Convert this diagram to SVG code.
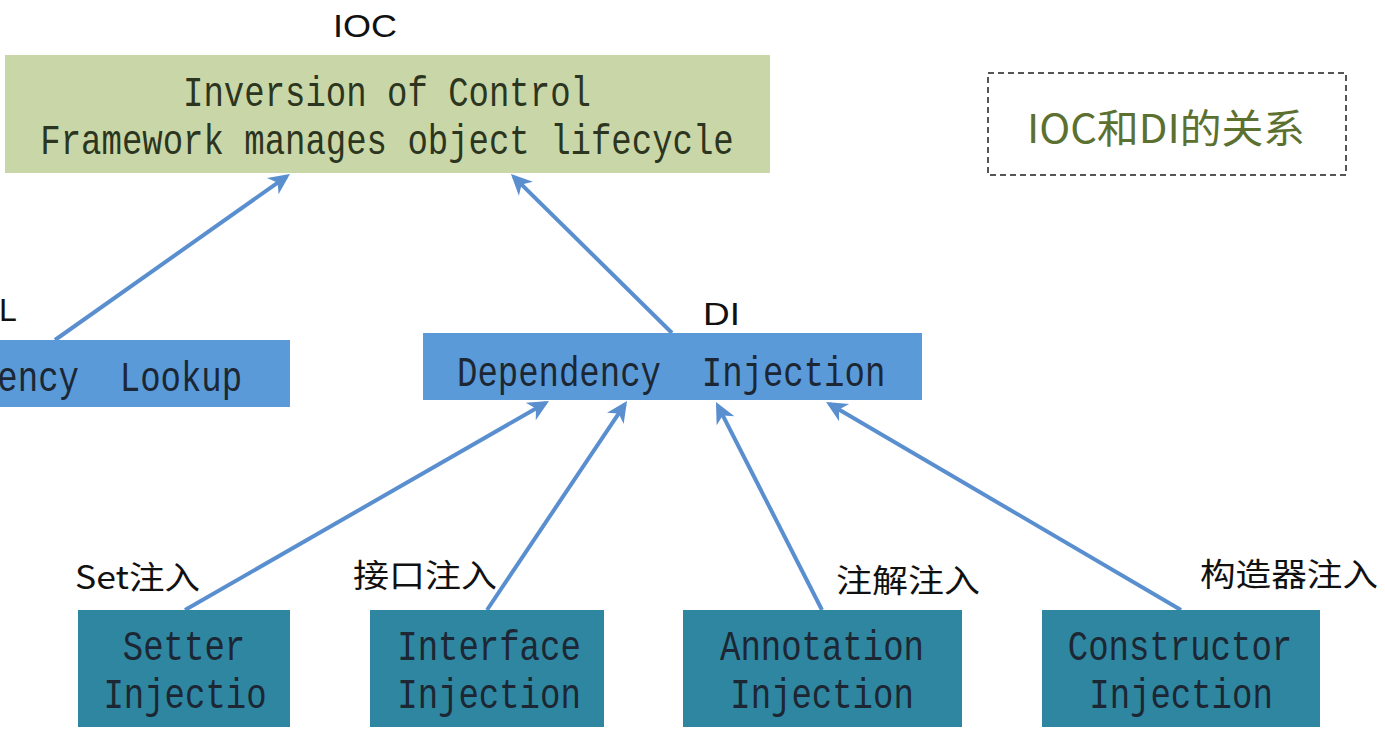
<svg xmlns="http://www.w3.org/2000/svg" width="1385" height="736" viewBox="0 0 1385 736">
<defs>
<style>
.mono{font-family:"Liberation Mono","DejaVu Sans Mono",monospace;font-size:34px}
.dark{fill:#1c2733}
.gdark{fill:#2c3520}
.lbl{font-family:"Liberation Sans","Noto Sans CJK SC",sans-serif;font-size:32px;fill:#111}
.cjk{font-family:"Noto Sans CJK SC",sans-serif;font-size:32px;fill:#111}
.conn{stroke:#5a8fcf;stroke-width:4;fill:none;marker-end:url(#arr)}
.blue{fill:#5a9ad8}
.teal{fill:#2f86a0}
</style>
<marker id="arr" markerUnits="userSpaceOnUse" viewBox="-24 -12 26 24" markerWidth="26" markerHeight="24" refX="-4" refY="0" orient="auto">
<path d="M0,0 L-21,-10 L-15,0 L-21,10 Z" fill="#5a8fcf"/>
</marker>
</defs>
<rect width="1385" height="736" fill="#fff"/>

<g id="conns">
<path class="conn" d="M55,340 L286.7,176.3"/>
<path class="conn" d="M672,333 L513.8,176.8"/>
<path class="conn" d="M185,610 L545.5,403"/>
<path class="conn" d="M487,610 L624.8,404.3"/>
<path class="conn" d="M822,610 L717.8,405.6"/>
<path class="conn" d="M1181,610 L829.5,404"/>
</g>

<g id="ioc">
<text class="lbl" x="333" y="37" textLength="64" lengthAdjust="spacingAndGlyphs">IOC</text>
<rect x="5" y="55" width="765" height="118" fill="#c9d7a8"/>
<text class="mono gdark" text-anchor="middle" transform="translate(387,106) scale(1,1.25)">Inversion of Control</text>
<text class="mono gdark" text-anchor="middle" transform="translate(387,154) scale(1,1.25)">Framework manages object lifecycle</text>
</g>

<g id="relation">
<rect x="988" y="73" width="358" height="102" fill="none" stroke="#555" stroke-width="2" stroke-dasharray="6 4"/>
<text x="1027" y="143" font-family="Noto Sans CJK SC, sans-serif" font-size="40" fill="#5c7030" textLength="278" lengthAdjust="spacingAndGlyphs">IOC和DI的关系</text>
</g>

<g id="dl">
<text class="lbl" x="-24" y="321">DL</text>
<rect x="-160" y="340" width="450" height="67" class="blue"/>
<text class="mono dark" transform="translate(-125,391) scale(1,1.25)" xml:space="preserve">Dependency  Lookup</text>
</g>

<g id="di">
<text class="lbl" x="703" y="325" textLength="37" lengthAdjust="spacingAndGlyphs">DI</text>
<rect x="423" y="333" width="499" height="67" class="blue"/>
<text class="mono dark" transform="translate(457,386) scale(1,1.25)" xml:space="preserve">Dependency  Injection</text>
</g>

<g id="setter">
<text class="cjk" x="75" y="589" textLength="125" lengthAdjust="spacingAndGlyphs">Set注入</text>
<rect x="78" y="610" width="212" height="117" class="teal"/>
<text class="mono dark" text-anchor="middle" transform="translate(184,660) scale(1,1.25)">Setter</text>
<text class="mono dark" text-anchor="middle" transform="translate(185,708) scale(1,1.25)">Injectio</text>
</g>

<g id="interface">
<text class="cjk" x="353" y="587" textLength="144" lengthAdjust="spacingAndGlyphs">接口注入</text>
<rect x="370" y="610" width="234" height="117" class="teal"/>
<text class="mono dark" text-anchor="middle" transform="translate(489,660) scale(1,1.25)">Interface</text>
<text class="mono dark" text-anchor="middle" transform="translate(489,708) scale(1,1.25)">Injection</text>
</g>

<g id="annotation">
<text class="cjk" x="836" y="592" textLength="144" lengthAdjust="spacingAndGlyphs">注解注入</text>
<rect x="683" y="610" width="279" height="117" class="teal"/>
<text class="mono dark" text-anchor="middle" transform="translate(822,660) scale(1,1.25)">Annotation</text>
<text class="mono dark" text-anchor="middle" transform="translate(822,708) scale(1,1.25)">Injection</text>
</g>

<g id="constructor">
<text class="cjk" x="1200" y="586" textLength="178" lengthAdjust="spacingAndGlyphs">构造器注入</text>
<rect x="1042" y="610" width="278" height="117" class="teal"/>
<text class="mono dark" text-anchor="middle" transform="translate(1180,660) scale(1,1.25)">Constructor</text>
<text class="mono dark" text-anchor="middle" transform="translate(1181,708) scale(1,1.25)">Injection</text>
</g>
</svg>
